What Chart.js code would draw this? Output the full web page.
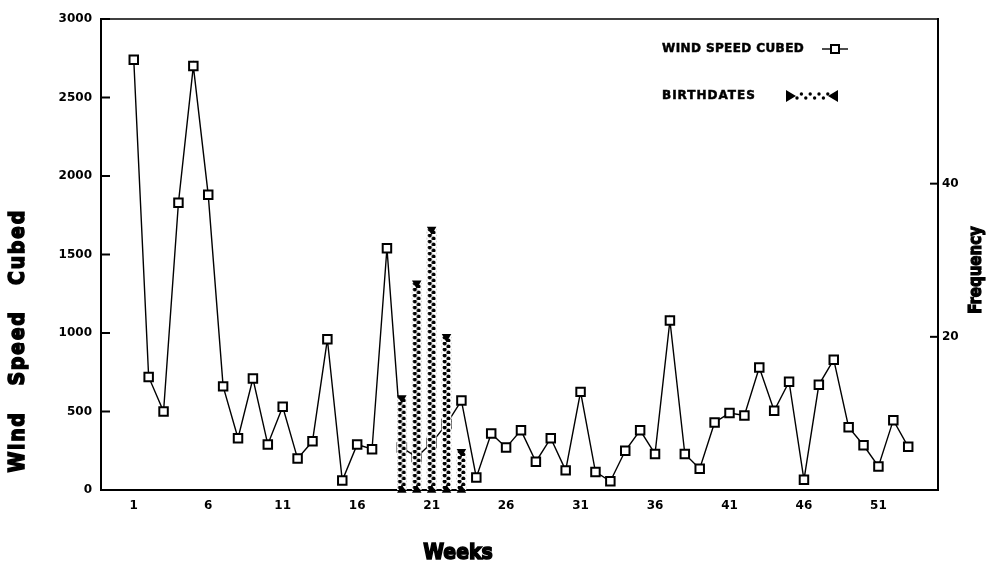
<!DOCTYPE html>
<html>
<head>
<meta charset="utf-8">
<script src="https://cdn.jsdelivr.net/npm/chart.js@4.4.0/dist/chart.umd.min.js"></script>
<style>
  html, body { margin: 0; padding: 0; background: #fff; }
  #wrap { width: 996px; height: 566px; }
</style>
</head>
<body>
<div id="wrap"><canvas id="windChart" width="996" height="566"></canvas></div>
<script>
const weeks = [1, 2, 3, 4, 5, 6, 7, 8, 9, 10, 11, 12, 13, 14, 15, 16, 17, 18, 19, 20,
  21, 22, 23, 24, 25, 26, 27, 28, 29, 30, 31, 32, 33, 34, 35, 36, 37, 38, 39, 40,
  41, 42, 43, 44, 45, 46, 47, 48, 49, 50, 51, 52, 53]
const windSpeedCubed = [2740, 720, 500, 1830, 2700, 1880, 660, 330, 710, 290,
  530, 200, 310, 960, 60, 290, 260, 1540, 270, 210,
  300, 420, 570, 80, 360, 270, 380, 180, 330, 125,
  625, 115, 55, 250, 380, 230, 1080, 230, 135, 430,
  490, 475, 780, 505, 690, 65, 670, 830, 400, 285,
  150, 445, 275]
const birthWeeks = [19, 20, 21, 22, 23]
const birthCounts = [12, 27, 34, 20, 5]
const weekTicks = [1, 6, 11, 16, 21, 26, 31, 36, 41, 46, 51]
const windTicks = [0, 500, 1000, 1500, 2000, 2500, 3000]
const freqTicks = [20, 40]

const FONT = "'DejaVu Sans', 'Liberation Sans', sans-serif"

// one tile of the dotted fill used in the birthdate columns
const dotTile = (() => {
  const c = document.createElement('canvas')
  c.width = 9
  c.height = 6
  const g = c.getContext('2d')
  g.fillStyle = '#fff'
  g.fillRect(0, 0, 9, 6)
  g.fillStyle = '#000'
  g.beginPath()
  g.arc(2.6, 1.5, 2, 0, Math.PI * 2)
  g.fill()
  g.beginPath()
  g.arc(6.4, 4.5, 2, 0, Math.PI * 2)
  g.fill()
  return c
})()

// pattern lined up with the left edge of each column
const columnFill = (context) => {
  const chart = context.chart
  const p = chart.ctx.createPattern(dotTile, 'repeat')
  const xs = chart.scales.x
  if (xs && context.dataIndex !== undefined) {
    const px = xs.getPixelForValue(birthWeeks[context.dataIndex])
    p.setTransform(new DOMMatrix().translate(px - 4.5, 0))
  }
  return p
}

const heavyText = (ctx, text, x, y) => {
  ctx.fillText(text, x, y)
  ctx.strokeText(text, x, y)
}

const framePlugin = {
  id: 'frame',
  afterDraw(chart) {
    const { ctx, chartArea: a, scales } = chart
    ctx.save()
    ctx.strokeStyle = '#000'
    ctx.fillStyle = '#000'

    // top border
    ctx.lineWidth = 1.5
    ctx.beginPath()
    ctx.moveTo(a.left, a.top)
    ctx.lineTo(a.right, a.top)
    ctx.stroke()

    // inward tick marks
    ctx.lineWidth = 2
    scales.y.ticks.forEach(t => {
      const py = scales.y.getPixelForValue(t.value)
      ctx.beginPath()
      ctx.moveTo(a.left, py)
      ctx.lineTo(a.left + 9, py)
      ctx.stroke()
    })
    scales.y1.ticks.forEach(t => {
      const py = scales.y1.getPixelForValue(t.value)
      ctx.beginPath()
      ctx.moveTo(a.right, py)
      ctx.lineTo(a.right - 8, py)
      ctx.stroke()
    })

    // axis titles, condensed and heavy
    ctx.lineWidth = 1.6
    ctx.textAlign = 'center'
    ctx.textBaseline = 'middle'
    ctx.font = 'bold 22px ' + FONT

    ctx.save()
    ctx.translate(458, 553)
    ctx.scale(0.86, 1)
    heavyText(ctx, 'Weeks', 0, 0)
    ctx.restore()

    ctx.save()
    ctx.translate(18, 0)
    ctx.rotate(-Math.PI / 2)
    ctx.letterSpacing = '2px'
    ctx.scale(0.86, 1)
    heavyText(ctx, 'Wind', -442 / 0.86, 0)
    heavyText(ctx, 'Speed', -348 / 0.86, 0)
    heavyText(ctx, 'Cubed', -247 / 0.86, 0)
    ctx.restore()

    ctx.save()
    ctx.translate(977, 270)
    ctx.rotate(-Math.PI / 2)
    ctx.font = 'bold 17px ' + FONT
    ctx.lineWidth = 1.2
    ctx.scale(0.88, 1)
    heavyText(ctx, 'Frequency', 0, 0)
    ctx.restore()

    // legend
    ctx.lineWidth = 0.5
    ctx.textAlign = 'left'
    ctx.font = 'bold 12px ' + FONT
    ctx.letterSpacing = '0.4px'
    heavyText(ctx, 'WIND SPEED CUBED', 662, 49)
    ctx.letterSpacing = '1px'
    heavyText(ctx, 'BIRTHDATES', 662, 96)
    ctx.letterSpacing = '0px'

    ctx.lineWidth = 1.4
    ctx.beginPath()
    ctx.moveTo(822, 49)
    ctx.lineTo(848, 49)
    ctx.stroke()
    ctx.lineWidth = 2
    ctx.fillStyle = '#fff'
    ctx.fillRect(831, 45, 8, 8)
    ctx.strokeRect(831, 45, 8, 8)

    ctx.fillStyle = '#000'
    ctx.beginPath()
    ctx.moveTo(786, 90)
    ctx.lineTo(796, 96)
    ctx.lineTo(786, 102)
    ctx.closePath()
    ctx.moveTo(838, 90)
    ctx.lineTo(828, 96)
    ctx.lineTo(838, 102)
    ctx.closePath()
    ctx.fill()
    for (let i = 0; i < 8; i++) {
      ctx.beginPath()
      ctx.arc(797 + i * 4.4, i % 2 ? 94 : 98, 1.7, 0, Math.PI * 2)
      ctx.fill()
    }
    ctx.restore()
  }
}

const tickFont = { family: FONT, size: 12, weight: 'bold' }
const plain = v => String(v)

new Chart(document.getElementById('windChart'), {
  type: 'line',
  data: {
    datasets: [
      {
        type: 'line',
        label: 'Wind Speed Cubed',
        data: weeks.map((w, i) => ({ x: w, y: windSpeedCubed[i] })),
        yAxisID: 'y',
        borderColor: '#000',
        borderWidth: 1.4,
        tension: 0,
        pointStyle: 'rect',
        pointRadius: 6,
        pointBorderWidth: 2,
        pointBackgroundColor: '#fff',
        pointBorderColor: '#000',
        clip: false,
        order: 2
      },
      {
        type: 'bar',
        label: 'Birthdates',
        data: birthWeeks.map((w, i) => ({ x: w, y: birthCounts[i] })),
        yAxisID: 'y1',
        backgroundColor: columnFill,
        borderWidth: 0,
        barThickness: 9,
        order: 1
      },
      {
        type: 'line',
        label: 'tops',
        data: birthWeeks.map((w, i) => ({ x: w, y: birthCounts[i] })),
        yAxisID: 'y1',
        showLine: false,
        pointStyle: 'triangle',
        rotation: 180,
        pointRadius: 5.5,
        pointBackgroundColor: '#000',
        pointBorderColor: '#000',
        pointBorderWidth: 0,
        clip: false,
        order: 0
      },
      {
        type: 'line',
        label: 'bases',
        data: birthWeeks.map(w => ({ x: w, y: 0 })),
        yAxisID: 'y1',
        showLine: false,
        pointStyle: 'triangle',
        pointRadius: 5.5,
        pointBackgroundColor: '#000',
        pointBorderColor: '#000',
        pointBorderWidth: 0,
        clip: false,
        order: 0
      }
    ]
  },
  options: {
    responsive: false,
    animation: false,
    layout: { padding: { top: 19, left: 0, right: 0, bottom: 0 } },
    plugins: {
      legend: { display: false },
      tooltip: { enabled: false }
    },
    scales: {
      x: {
        type: 'linear',
        min: -1.2,
        max: 55,
        offset: false,
        afterBuildTicks: s => { s.ticks = weekTicks.map(v => ({ value: v })) },
        afterFit: s => { s.height = 76 },
        grid: { display: false, drawTicks: false, offset: false },
        border: { display: true, color: '#000', width: 2 },
        ticks: { color: '#000', font: tickFont, padding: 9, autoSkip: false, maxRotation: 0, callback: plain }
      },
      y: {
        position: 'left',
        min: 0,
        max: 3000,
        afterBuildTicks: s => { s.ticks = windTicks.map(v => ({ value: v })) },
        afterFit: s => { s.width = 101 },
        grid: { display: false, drawTicks: false },
        border: { display: true, color: '#000', width: 2 },
        ticks: { color: '#000', font: tickFont, padding: 9, callback: plain }
      },
      y1: {
        position: 'right',
        min: 0,
        max: 61.5,
        afterBuildTicks: s => { s.ticks = freqTicks.map(v => ({ value: v })) },
        afterFit: s => { s.width = 58 },
        grid: { display: false, drawTicks: false },
        border: { display: true, color: '#000', width: 2 },
        ticks: { color: '#000', font: tickFont, padding: 4, callback: plain }
      }
    }
  },
  plugins: [framePlugin]
})
</script>
</body>
</html>
